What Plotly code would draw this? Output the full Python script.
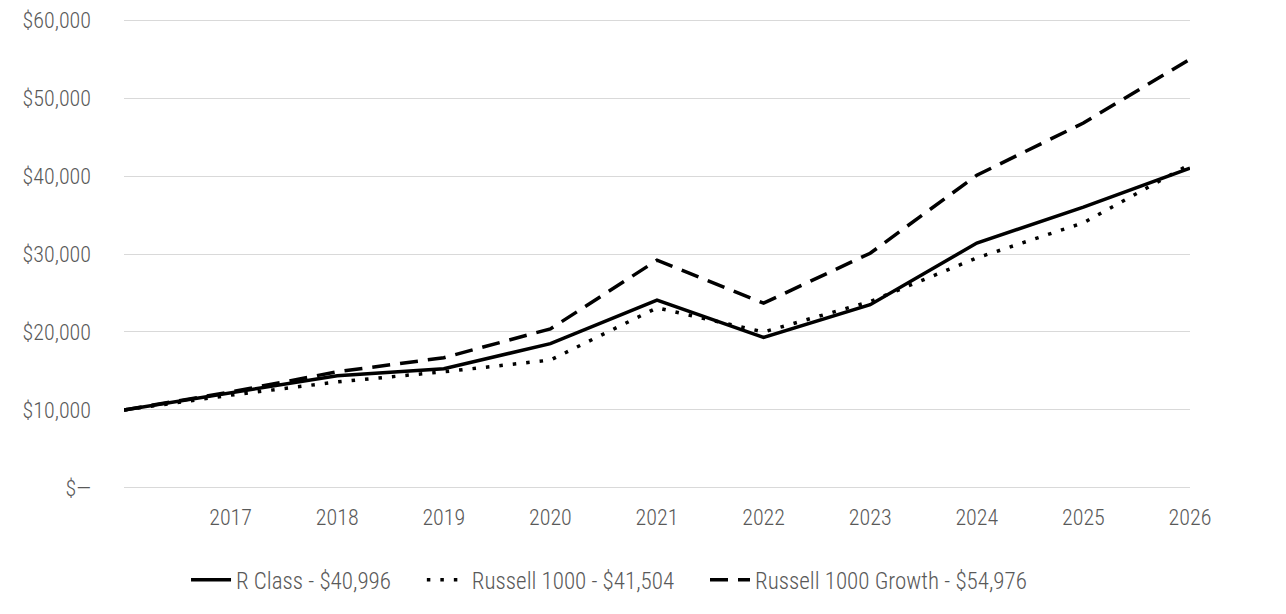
import plotly.graph_objects as go

years = list(range(2016, 2027))
r_class = [10000, 12200, 14400, 15300, 18500, 24100, 19300, 23500, 31400, 36000, 40996]
russell_1000 = [10000, 11900, 13600, 14900, 16400, 23100, 20000, 23900, 29500, 34000, 41504]
russell_1000_growth = [10000, 12300, 14900, 16700, 20400, 29200, 23700, 30100, 40100, 46800, 54976]

y_ticks = [0, 10000, 20000, 30000, 40000, 50000, 60000]
y_labels = ["$\u2014", "$10,000", "$20,000", "$30,000", "$40,000", "$50,000", "$60,000"]
x_ticks = list(range(2017, 2027))

font_family = "Liberation Sans Narrow, Arial Narrow, Roboto Condensed, Liberation Sans, sans-serif"
pad = "\u00a0" * 5  # extra room between legend entries

fig = go.Figure()

fig.add_trace(go.Scatter(x=years, y=r_class, mode='lines', name='R Class - $40,996' + pad,
                         line=dict(color='black', width=3.5)))
fig.add_trace(go.Scatter(x=years, y=russell_1000, mode='lines', name='Russell 1000 - $41,504' + pad,
                         line=dict(color='black', width=3.5, dash='3.5px,10px')))
fig.add_trace(go.Scatter(x=years, y=russell_1000_growth, mode='lines', name='Russell 1000 Growth - $54,976',
                         line=dict(color='black', width=3.5, dash='18px,10px')))

fig.update_layout(
    width=1286,
    height=614,
    paper_bgcolor='white',
    plot_bgcolor='white',
    font=dict(family=font_family, size=22, color='#595959', weight=300),
    margin=dict(l=116, r=104, t=10, b=132, autoexpand=False),
    showlegend=True,
    legend=dict(
        orientation='h',
        yanchor='middle',
        y=-0.19,
        xanchor='center',
        x=0.455,
        font=dict(size=23, color='#595959', weight=300),
        itemwidth=40,
    ),
)

# pad the range a little so the gridlines at $0 and $60,000 are not clipped
fig.update_xaxes(
    range=[2016, 2026],
    tickvals=x_ticks,
    ticktext=[str(v) for v in x_ticks],
    showgrid=False,
    zeroline=False,
    showline=False,
    ticks='',
    automargin=False,
    ticklabeloverflow='allow',
    ticklabelstandoff=12,
)
fig.update_yaxes(
    range=[-260, 60260],
    tickvals=y_ticks,
    ticktext=y_labels,
    showgrid=True,
    gridcolor='#d9d9d9',
    gridwidth=1,
    zeroline=False,
    showline=False,
    ticks='',
    automargin=False,
    ticklabeloverflow='allow',
    ticklabelstandoff=32,
)

fig.write_html("out.html")
